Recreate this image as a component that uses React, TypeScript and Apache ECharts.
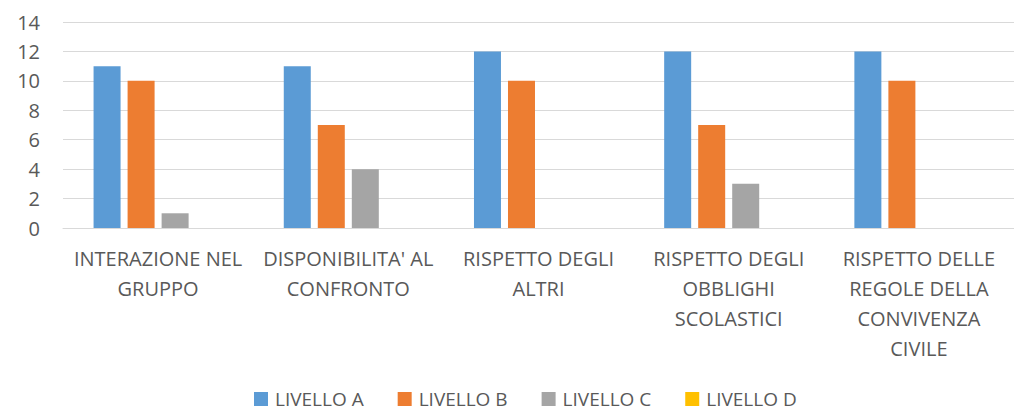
import React, { useEffect, useRef } from "react";
import * as echarts from "echarts";

const categories = [
  "INTERAZIONE NEL\nGRUPPO",
  "DISPONIBILITA' AL\nCONFRONTO",
  "RISPETTO DEGLI\nALTRI",
  "RISPETTO DEGLI\nOBBLIGHI\nSCOLASTICI",
  "RISPETTO DELLE\nREGOLE DELLA\nCONVIVENZA\nCIVILE",
];
const livelloA = [11, 11, 12, 12, 12];
const livelloB = [10, 7, 10, 7, 10];
const livelloC = [1, 4, 0, 3, 0];
const livelloD = [0, 0, 0, 0, 0];
const seriesNames = ["LIVELLO A", "LIVELLO B", "LIVELLO C", "LIVELLO D"];
const colors = ["#5B9BD5", "#ED7D31", "#A5A5A5", "#FFC000"];

export default function App() {
  const ref = useRef<HTMLDivElement>(null);
  useEffect(() => {
    if (!ref.current) return;
    const chart = echarts.init(ref.current, null, { renderer: "svg" });
    const font = "'Open Sans', 'Noto Sans', sans-serif";
    const values = [livelloA, livelloB, livelloC, livelloD];
    chart.setOption({
      animation: false,
      textStyle: { fontFamily: font },
      grid: { left: 63, right: 0, top: 22, bottom: 183, containLabel: false },
      legend: {
        data: seriesNames,
        top: 389,
        left: 254,
        padding: 0,
        itemWidth: 14,
        itemHeight: 14,
        itemGap: 34,
        icon: "rect",
        textStyle: {
          color: "#595959",
          fontSize: 19,
          lineHeight: 20,
          fontFamily: font,
          padding: [0, 0, 0, 2],
        },
      },
      xAxis: {
        type: "category",
        data: categories,
        axisLine: { show: true, lineStyle: { color: "#D9D9D9", width: 1 } },
        axisTick: { show: false },
        axisLabel: {
          color: "#595959",
          fontSize: 20,
          lineHeight: 30,
          margin: 15,
          interval: 0,
          fontFamily: font,
        },
      },
      yAxis: {
        type: "value",
        min: 0,
        max: 14,
        interval: 2,
        axisLine: { show: false },
        axisTick: { show: false },
        splitLine: { lineStyle: { color: "#D9D9D9", width: 1 } },
        axisLabel: { color: "#595959", fontSize: 20, margin: 23, fontFamily: font },
      },
      series: seriesNames.map((name, i) => ({
        name,
        type: "bar",
        data: values[i],
        barWidth: 27,
        barGap: "26%",
        itemStyle: { color: colors[i] },
      })),
    });
    return () => chart.dispose();
  }, []);
  return (
    <div
      ref={ref}
      style={{ position: "fixed", left: 0, top: 0, width: 1014, height: 411, background: "#fff" }}
    />
  );
}
